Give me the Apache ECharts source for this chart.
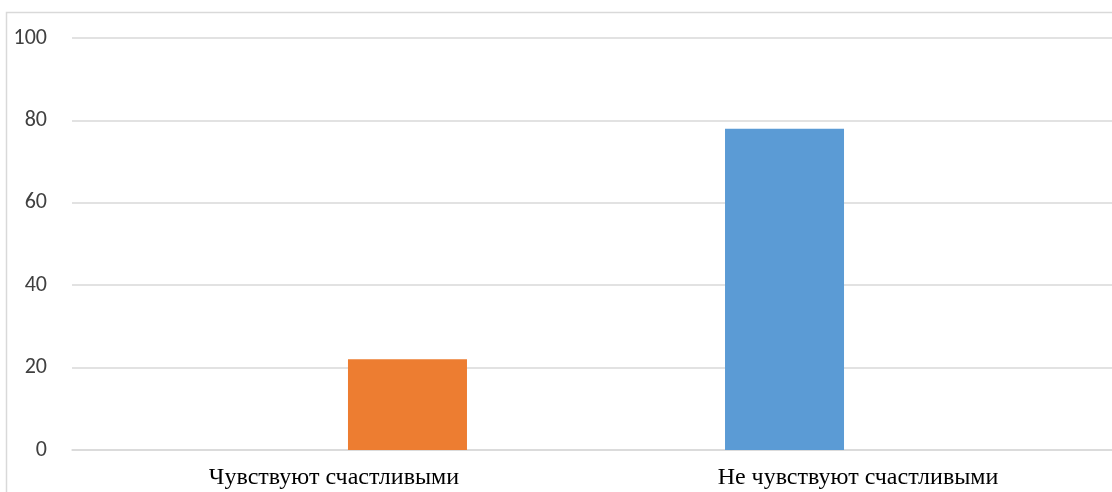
<!DOCTYPE html>
<html>
<head>
<meta charset="utf-8">
<script src="https://cdn.jsdelivr.net/npm/echarts@6/dist/echarts.min.js"></script>
<style>
html,body{margin:0;padding:0;background:#fff;overflow:hidden;width:1112px;height:492px;}
#chart{width:1121px;height:492px;}
</style>
</head>
<body>
<div id="chart"></div>
<script>
var categories = ['Чувствуют счастливыми', 'Не чувствуют счастливыми'];
var seriesBlue = [null, 78];
var seriesOrange = [22, null];
var yTicks = [0, 20, 40, 60, 80, 100];

var chart = echarts.init(document.getElementById('chart'), null, {renderer: 'canvas'});
chart.setOption({
  animation: false,
  backgroundColor: '#ffffff',
  graphic: [{
    type: 'rect',
    shape: {x: 6.5, y: 12.5, width: 1300, height: 700},
    style: {fill: 'none', stroke: '#d9d9d9', lineWidth: 1.5},
    silent: true,
    z: -10
  }],
  grid: {left: 72, right: 1, top: 38, bottom: 42, containLabel: false},
  xAxis: {
    type: 'category',
    data: categories,
    axisLine: {show: true, lineStyle: {color: '#d9d9d9', width: 1.5}},
    axisTick: {show: false},
    axisLabel: {
      color: '#000000',
      fontFamily: '"Liberation Serif", "Times New Roman", serif',
      fontSize: 24,
      margin: 16
    }
  },
  yAxis: {
    type: 'value',
    min: yTicks[0],
    max: yTicks[yTicks.length - 1],
    interval: yTicks[1] - yTicks[0],
    axisLine: {show: false},
    axisTick: {show: false},
    splitLine: {lineStyle: {color: '#d9d9d9', width: 1.5}},
    axisLabel: {
      color: '#404040',
      fontFamily: 'Carlito, Lato, "Open Sans", sans-serif',
      fontSize: 22,
      margin: 25
    }
  },
  series: [
    {
      type: 'bar',
      name: 'Серия 1',
      data: seriesBlue,
      barWidth: 119,
      barGap: '23.5%',
      itemStyle: {color: '#5b9bd5'}
    },
    {
      type: 'bar',
      name: 'Серия 2',
      data: seriesOrange,
      barWidth: 119,
      barGap: '23.5%',
      itemStyle: {color: '#ed7d31'}
    }
  ]
});
</script>
</body>
</html>
